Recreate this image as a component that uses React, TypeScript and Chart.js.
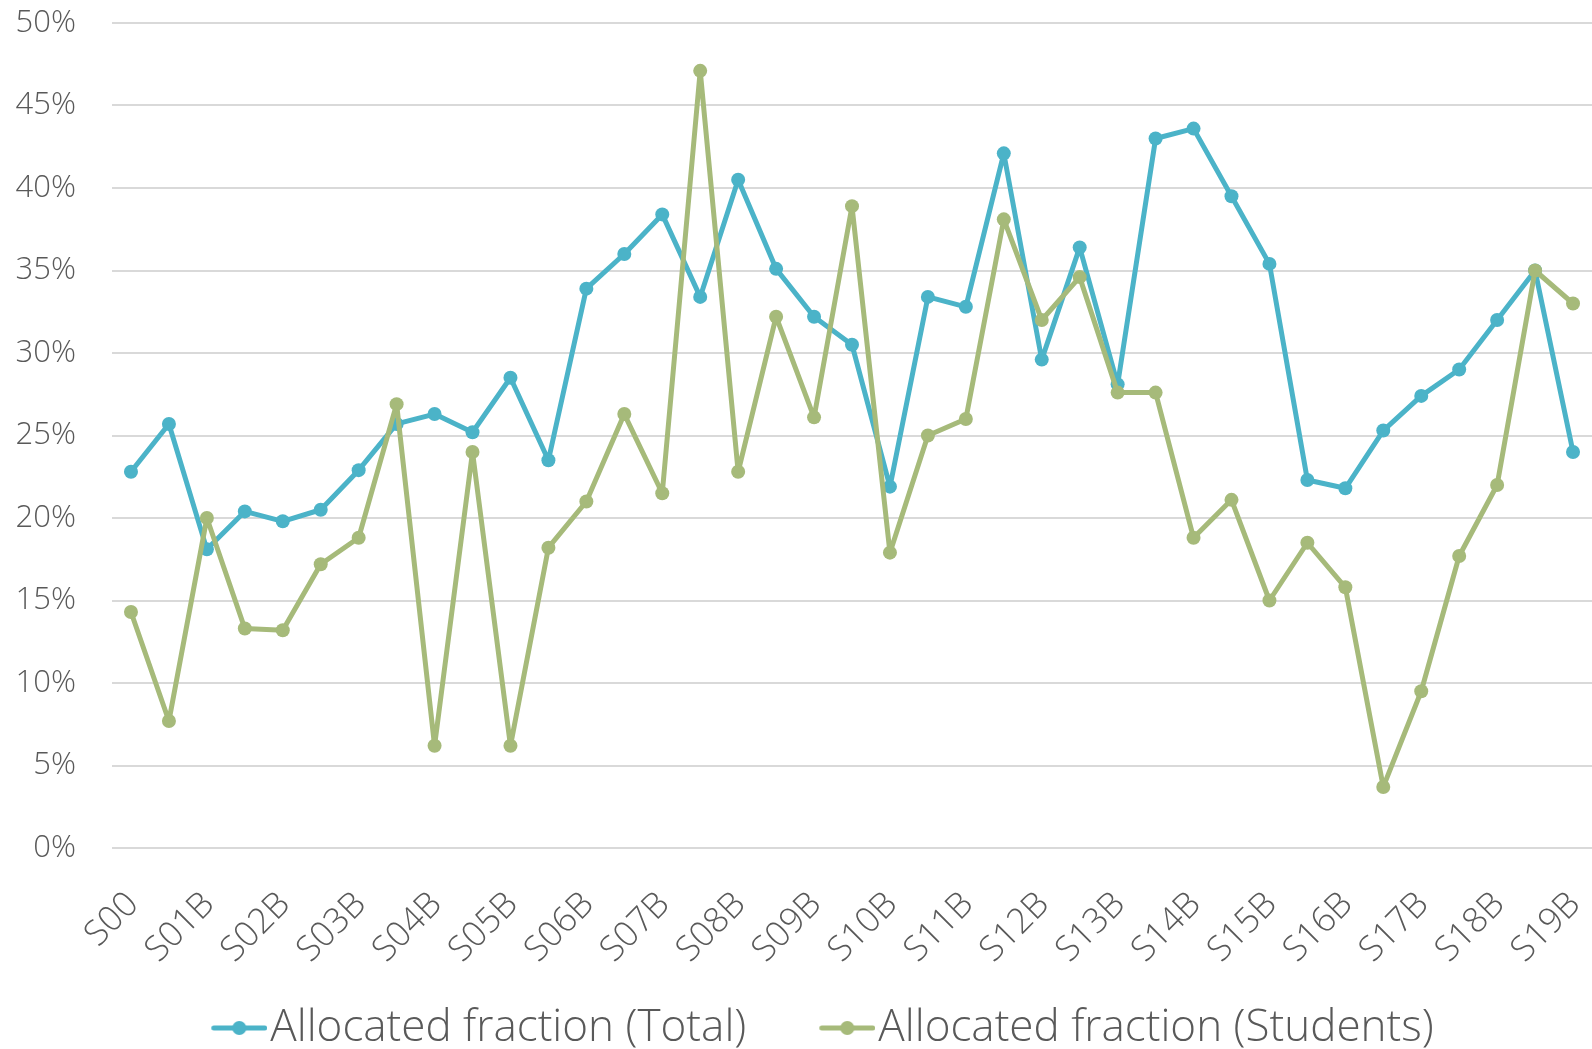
import React, { useEffect, useRef } from "react";
import { Chart, registerables } from "chart.js";

Chart.register(...registerables);

const categories = [
  "S00", "S01A", "S01B", "S02A", "S02B", "S03A", "S03B", "S04A", "S04B", "S05A",
  "S05B", "S06A", "S06B", "S07A", "S07B", "S08A", "S08B", "S09A", "S09B", "S10A",
  "S10B", "S11A", "S11B", "S12A", "S12B", "S13A", "S13B", "S14A", "S14B", "S15A",
  "S15B", "S16A", "S16B", "S17A", "S17B", "S18A", "S18B", "S19A", "S19B",
];

const totalValues = [
  22.8, 25.7, 18.1, 20.4, 19.8, 20.5, 22.9, 25.7, 26.3, 25.2,
  28.5, 23.5, 33.9, 36.0, 38.4, 33.4, 40.5, 35.1, 32.2, 30.5,
  21.9, 33.4, 32.8, 42.1, 29.6, 36.4, 28.1, 43.0, 43.6, 39.5,
  35.4, 22.3, 21.8, 25.3, 27.4, 29.0, 32.0, 35.0, 24.0,
];

const studentValues = [
  14.3, 7.7, 20.0, 13.3, 13.2, 17.2, 18.8, 26.9, 6.2, 24.0,
  6.2, 18.2, 21.0, 26.3, 21.5, 47.1, 22.8, 32.2, 26.1, 38.9,
  17.9, 25.0, 26.0, 38.1, 32.0, 34.6, 27.6, 27.6, 18.8, 21.1,
  15.0, 18.5, 15.8, 3.7, 9.5, 17.7, 22.0, 35.0, 33.0,
];

const seriesNames = ["Allocated fraction (Total)", "Allocated fraction (Students)"];

const TOTAL_COLOR = "#4bb3c8";
const STUDENT_COLOR = "#a6ba7a";
const TEXT_COLOR = "#595959";
const FONT_FAMILY = "'Open Sans', 'Noto Sans', sans-serif";

const LEGEND_FONT = 44;
const LEGEND_PAD = 20;
const LEGEND_BOX = 132 - LEGEND_PAD - LEGEND_FONT / 2;
const MARKER_W = LEGEND_BOX + LEGEND_FONT - 6;

function makeMarker(color: string): HTMLCanvasElement {
  const c = document.createElement("canvas");
  c.width = Math.round(MARKER_W);
  c.height = 18;
  const ctx = c.getContext("2d")!;
  const right = c.width;
  ctx.strokeStyle = color;
  ctx.fillStyle = color;
  ctx.lineWidth = 5;
  ctx.lineCap = "round";
  ctx.beginPath();
  ctx.moveTo(right - 53.5, 9);
  ctx.lineTo(right - 2.5, 9);
  ctx.stroke();
  ctx.beginPath();
  ctx.arc(right - 28, 9, 7, 0, Math.PI * 2);
  ctx.fill();
  return c;
}

export default function App() {
  const ref = useRef<HTMLCanvasElement | null>(null);

  useEffect(() => {
    if (!ref.current) return;
    const markers: Record<number, HTMLCanvasElement> = {
      0: makeMarker(STUDENT_COLOR),
      1: makeMarker(TOTAL_COLOR),
    };
    const common = {
      pointBorderWidth: 0,
      pointRadius: 7,
      pointHoverRadius: 7,
      borderWidth: 5,
      borderJoinStyle: "round" as const,
      tension: 0,
    };
    const chart = new Chart(ref.current, {
      type: "line",
      data: {
        labels: categories,
        datasets: [
          {
            label: seriesNames[1],
            data: studentValues,
            borderColor: STUDENT_COLOR,
            backgroundColor: STUDENT_COLOR,
            pointBackgroundColor: STUDENT_COLOR,
            ...common,
          },
          {
            label: seriesNames[0],
            data: totalValues,
            borderColor: TOTAL_COLOR,
            backgroundColor: TOTAL_COLOR,
            pointBackgroundColor: TOTAL_COLOR,
            ...common,
          },
        ],
      },
      options: {
        responsive: false,
        animation: false,
        devicePixelRatio: 1,
        layout: { autoPadding: false, padding: { left: 0, right: 0, top: 23, bottom: -11 } },
        plugins: {
          tooltip: { enabled: false },
          legend: {
            position: "bottom",
            reverse: true,
            labels: {
              usePointStyle: true,
              pointStyleWidth: LEGEND_BOX,
              padding: LEGEND_PAD,
              color: TEXT_COLOR,
              font: { family: FONT_FAMILY, size: LEGEND_FONT, weight: "300" as any },
              generateLabels: (ch: any) => {
                const items = (Chart.defaults.plugins.legend.labels as any).generateLabels(ch);
                return items.map((it: any) => ({
                  ...it,
                  pointStyle: markers[it.datasetIndex],
                  fontColor: TEXT_COLOR,
                }));
              },
            },
          },
        },
        scales: {
          x: {
            offset: true,
            grid: { display: false, drawTicks: false },
            border: { display: false },
            ticks: {
              autoSkip: false,
              minRotation: 45,
              maxRotation: 45,
              padding: 36,
              labelOffset: 2,
              color: TEXT_COLOR,
              font: { family: FONT_FAMILY, size: 35, weight: "300" as any },
              callback: (_v: any, idx: number) => (idx % 2 === 0 ? categories[idx] : ""),
            },
            afterFit: (s: any) => {
              s.height = 138;
              s.paddingLeft = 0;
              s.paddingRight = 0;
            },
          },
          y: {
            min: 0,
            max: 50,
            grid: { color: "#d9d9d9", lineWidth: 2, drawTicks: false },
            border: { display: false },
            ticks: {
              stepSize: 5,
              padding: 36,
              color: TEXT_COLOR,
              font: { family: FONT_FAMILY, size: 31, weight: "300" as any },
              callback: (v: any) => `${v}%`,
            },
            afterFit: (s: any) => {
              s.width = 112;
              s.paddingTop = 0;
              s.paddingBottom = 0;
            },
          },
        },
      },
    });
    return () => chart.destroy();
  }, []);

  return (
    <div style={{ position: "fixed", left: 0, top: 0, width: 1592, height: 1049, background: "#fff" }}>
      <canvas ref={ref} width={1592} height={1049} style={{ display: "block" }} />
    </div>
  );
}
